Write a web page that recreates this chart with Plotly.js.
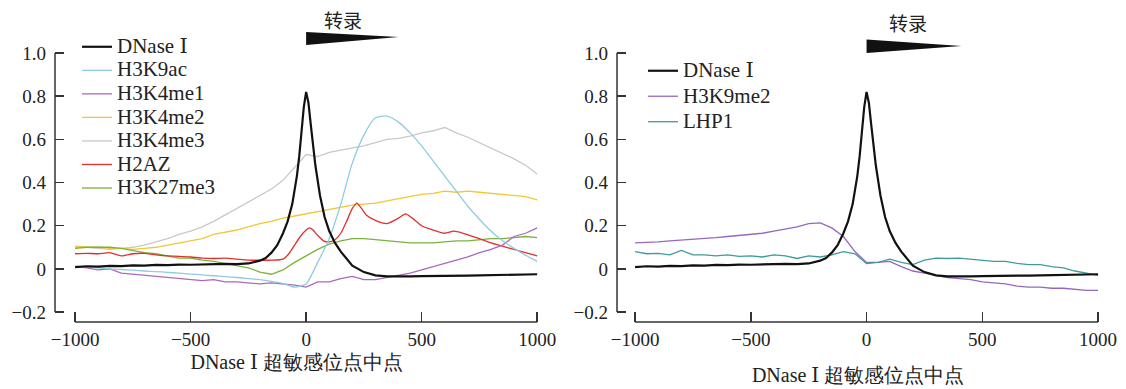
<!DOCTYPE html>
<html><head><meta charset="utf-8">
<script src="https://cdn.plot.ly/plotly-3.0.1.min.js"></script>
<style>html,body{margin:0;padding:0;background:#fff}</style>
</head><body>
<div id="chart" style="width:1126px;height:389px"></div>
<script>
// ---- shared positions (bp from DNase I HS midpoint) ----
const X50 = [-1000,-950,-900,-850,-800,-750,-700,-650,-600,-550,-500,-450,-400,-350,-300,-250,-200,-150,-100,-50,0,50,100,150,200,250,300,350,400,450,500,550,600,650,700,750,800,850,900,950,1000];

// ---- DNase I (both panels) ----
const xDNase = [-1000,-950,-900,-850,-800,-750,-700,-650,-600,-550,-500,-450,-400,-350,-300,-250,-200,-175,-150,-125,-100,-80,-60,-40,-30,-20,-10,0,10,20,30,40,60,80,100,125,150,175,200,250,300,350,400,450,500,550,600,650,700,750,800,850,900,950,1000];
const yDNase = [0.008,0.012,0.01,0.014,0.013,0.016,0.015,0.018,0.017,0.02,0.019,0.021,0.02,0.023,0.022,0.025,0.038,0.05,0.075,0.11,0.165,0.22,0.30,0.43,0.52,0.63,0.75,0.82,0.77,0.67,0.57,0.48,0.34,0.24,0.175,0.12,0.08,0.045,0.015,-0.015,-0.03,-0.035,-0.036,-0.035,-0.034,-0.034,-0.033,-0.032,-0.031,-0.03,-0.029,-0.028,-0.027,-0.026,-0.025];

// ---- left panel series ----
const yH3K9ac = [0.012,0.008,0.005,0.0,-0.003,-0.006,-0.01,-0.013,-0.016,-0.02,-0.024,-0.028,-0.032,-0.036,-0.04,-0.045,-0.05,-0.058,-0.068,-0.085,-0.07,0.03,0.14,0.30,0.49,0.62,0.70,0.708,0.68,0.63,0.57,0.50,0.43,0.36,0.29,0.23,0.175,0.13,0.095,0.063,0.035];
const yH3K4me1 = [0.01,0.005,-0.005,0.0,-0.02,-0.025,-0.03,-0.035,-0.04,-0.045,-0.05,-0.055,-0.05,-0.06,-0.06,-0.065,-0.07,-0.065,-0.07,-0.075,-0.085,-0.06,-0.06,-0.045,-0.035,-0.05,-0.05,-0.04,-0.03,-0.02,-0.005,0.01,0.025,0.04,0.055,0.075,0.09,0.11,0.15,0.165,0.19];
const yH3K4me2 = [0.105,0.10,0.10,0.095,0.095,0.09,0.095,0.10,0.11,0.12,0.13,0.14,0.16,0.17,0.18,0.195,0.21,0.22,0.235,0.245,0.255,0.265,0.275,0.285,0.295,0.30,0.305,0.315,0.325,0.335,0.345,0.35,0.36,0.355,0.36,0.355,0.35,0.345,0.34,0.335,0.32];
const yH3K4me3 = [0.10,0.10,0.095,0.09,0.095,0.10,0.11,0.125,0.14,0.16,0.175,0.195,0.22,0.25,0.28,0.31,0.34,0.37,0.41,0.47,0.53,0.52,0.54,0.55,0.56,0.57,0.585,0.60,0.605,0.615,0.63,0.64,0.655,0.63,0.61,0.585,0.56,0.535,0.51,0.48,0.44];
const xH2AZ = [-1000,-950,-900,-850,-800,-750,-700,-650,-600,-550,-500,-450,-400,-350,-300,-250,-200,-150,-100,-75,-50,-25,0,15,30,50,75,100,125,150,175,200,220,240,260,300,350,400,430,460,500,550,600,640,680,750,800,850,900,950,1000];
const yH2AZ = [0.07,0.072,0.07,0.075,0.06,0.07,0.072,0.065,0.06,0.058,0.055,0.05,0.048,0.05,0.045,0.04,0.04,0.04,0.045,0.07,0.11,0.15,0.18,0.19,0.18,0.155,0.13,0.125,0.135,0.165,0.22,0.28,0.305,0.28,0.25,0.225,0.21,0.235,0.255,0.235,0.20,0.18,0.165,0.175,0.165,0.14,0.12,0.105,0.09,0.075,0.06];
const yH3K27me3 = [0.095,0.10,0.10,0.10,0.095,0.085,0.075,0.07,0.06,0.05,0.05,0.04,0.035,0.025,0.015,0.005,-0.015,-0.025,-0.005,0.03,0.06,0.09,0.115,0.13,0.14,0.14,0.135,0.13,0.125,0.12,0.12,0.12,0.125,0.13,0.13,0.135,0.14,0.14,0.145,0.15,0.145];

// ---- right panel series ----
const yH3K9me2 = [0.12,0.122,0.125,0.13,0.133,0.137,0.142,0.145,0.15,0.155,0.16,0.165,0.175,0.185,0.195,0.21,0.213,0.19,0.15,0.08,0.03,0.03,0.035,0.01,-0.01,-0.02,-0.03,-0.04,-0.045,-0.05,-0.06,-0.065,-0.07,-0.08,-0.085,-0.085,-0.09,-0.09,-0.095,-0.1,-0.1];
const yLHP1 = [0.08,0.07,0.072,0.065,0.085,0.065,0.065,0.06,0.065,0.058,0.06,0.055,0.065,0.06,0.048,0.06,0.055,0.065,0.08,0.07,0.025,0.03,0.045,0.03,0.02,0.04,0.05,0.048,0.05,0.045,0.04,0.035,0.035,0.025,0.02,0.02,0.01,0.005,-0.01,-0.02,-0.03];

// ---- ticks & labels ----
const xTicks = [-1000,-500,0,500,1000];
const xTickText = ['\u22121000','\u2212500','0','500','1000'];
const yTicks = [-0.2,0,0.2,0.4,0.6,0.8,1.0];
const yTickText = ['\u22120.2','0','0.2','0.4','0.6','0.8','1.0'];
const ROMAN1 = '<span style="font-family:DejaVu Serif">\u2160</span>';
const xTitle = 'DNase ' + ROMAN1 + ' 超敏感位点中点';
const arrowLabel = '转录';

const FONT = 'Liberation Serif';
const CJK = 'Noto Sans CJK SC';
const C = {dnase:'#111111', k9ac:'#8fcbe2', k4me1:'#ac68bc', k4me2:'#f1c834', k4me3:'#c9c9c9', h2az:'#e0302e', k27:'#78b43a', k9me2:'#9468c2', lhp1:'#3f9c9a'};

const order = {'DNase':1,'H3K9ac':2,'H3K4me1':3,'H3K4me2':4,'H3K4me3':5,'H2AZ':6,'H3K27me3':7,'H3K9me2':2,'LHP1':3};
function label(name){ return name === 'DNase' ? 'DNase ' + ROMAN1 : name; }
function tr(x, y, name, color, w, xa, ya, leg, shape){
  return {type:'scatter', mode:'lines', x:x, y:y,
          name:'<span style="font-size:21px">' + label(name) + '</span>',
          legendrank:order[name], legendgroup: leg === 'legend2' ? name : undefined,
          xaxis:xa, yaxis:ya, legend:leg,
          line:{color:color, width:w, shape:shape||'linear', smoothing:0.6}, hoverinfo:'skip'};
}
const data = [
  tr(X50, yH3K4me3, 'H3K4me3', C.k4me3, 1.3, 'x', 'y', 'legend'),
  tr(X50, yH3K4me2, 'H3K4me2', C.k4me2, 1.3, 'x', 'y', 'legend'),
  tr(X50, yH3K27me3, 'H3K27me3', C.k27, 1.3, 'x', 'y', 'legend'),
  tr(xH2AZ, yH2AZ, 'H2AZ', C.h2az, 1.3, 'x', 'y', 'legend', 'spline'),
  tr(X50, yH3K4me1, 'H3K4me1', C.k4me1, 1.3, 'x', 'y', 'legend'),
  tr(X50, yH3K9ac, 'H3K9ac', C.k9ac, 1.3, 'x', 'y', 'legend', 'spline'),
  tr(xDNase, yDNase, 'DNase', C.dnase, 2.2, 'x', 'y', 'legend'),
  tr(X50, yH3K9me2, 'H3K9me2', C.k9me2, 1.3, 'x2', 'y2', 'legend2'),
  tr(X50, yLHP1, 'LHP1', C.lhp1, 1.3, 'x2', 'y2', 'legend2'),
  tr(xDNase, yDNase, 'DNase', C.dnase, 2.2, 'x2', 'y2', 'legend2')
];

function xax(domain, range, anchor, standoff){
  return {domain:domain, range:range, anchor:anchor, tickvals:xTicks, ticktext:xTickText,
    ticks:'inside', ticklen:10, tickwidth:1.5, tickcolor:'#333', showgrid:false, zeroline:false, showline:false,
    automargin:false, ticklabelstandoff:4, tickfont:{size:19, family:FONT},
    title:{text:xTitle, font:{size:20, family:FONT}, standoff:standoff}};
}
function yax(range, anchor){
  return {domain:[0.17224,0.86632], range:range, anchor:anchor, tickvals:yTicks, ticktext:yTickText,
    ticks:'inside', ticklen:9, tickwidth:1.5, tickcolor:'#333', showgrid:false, zeroline:false, showline:false,
    automargin:false, ticklabelstandoff:8, tickfont:{size:19, family:FONT}};
}
function axisLines(xa, ya, xd){
  return [
    {type:'line', xref:xd, yref:ya, x0:0, x1:0, y0:-0.2, y1:1.0, line:{color:'#333', width:1.5}},
    {type:'line', xref:xa, yref:ya + ' domain', x0:-1000, x1:1000, y0:0, y1:0, line:{color:'#333', width:1.5}}
  ];
}
function wedge(xa, tipX, top, bottom, tip){
  return {type:'path', xref:xa, yref:'paper', path:`M 0 ${top} L ${tipX} ${tip} L 0 ${bottom} Z`,
          fillcolor:'#111', line:{width:0}};
}
const py = px => (389 - px) / 389;

const layout = {
  width:1126, height:389, margin:{l:0, r:0, t:0, b:0},
  paper_bgcolor:'#fff', plot_bgcolor:'rgba(0,0,0,0)',
  font:{family:FONT, size:19, color:'#222'},
  showlegend:true,
  xaxis: xax([0.04885,0.47806], [-1087,1005], 'y', 6),
  yaxis: yax([-0.2463,1.005], 'x'),
  xaxis2: xax([0.54796,0.97620], [-1078,1005], 'y2', 19),
  yaxis2: yax([-0.2463,1.005], 'x2'),
  legend:{x:77/1126, y:py(30), xanchor:'left', yanchor:'top', bgcolor:'rgba(0,0,0,0)', borderwidth:0,
          font:{size:15.8, color:'#222', family:FONT}, tracegroupgap:0, traceorder:'normal'},
  legend2:{x:643/1126, y:py(53), xanchor:'left', yanchor:'top', bgcolor:'rgba(0,0,0,0)', borderwidth:0,
          font:{size:17.3, color:'#222', family:FONT}, tracegroupgap:0, traceorder:'grouped'},
  shapes: [].concat(
    axisLines('x','y','x domain'),
    axisLines('x2','y2','x2 domain'),
    [wedge('x', 400, py(32), py(45), py(37)), wedge('x2', 410, py(39.5), py(53), py(46))]
  ),
  annotations: [
    {xref:'x', yref:'paper', x:160, y:py(20), yanchor:'middle', text:arrowLabel, showarrow:false, font:{size:19, color:'#222', family:CJK}},
    {xref:'x2', yref:'paper', x:181, y:py(22), yanchor:'middle', text:arrowLabel, showarrow:false, font:{size:19, color:'#222', family:CJK}}
  ]
};
Plotly.newPlot('chart', data, layout, {staticPlot:true, displayModeBar:false});
</script>
</body></html>
